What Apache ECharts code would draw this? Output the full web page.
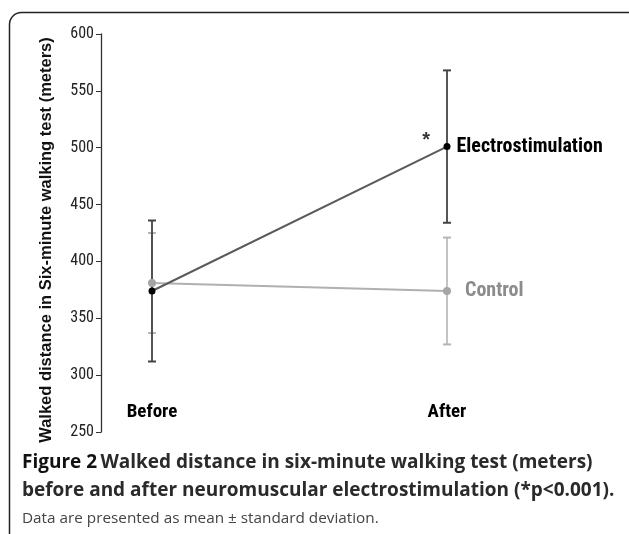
<!DOCTYPE html>
<html><head><meta charset="utf-8">
<script src="https://cdn.jsdelivr.net/npm/echarts@6/dist/echarts.min.js"></script>
<style>html,body{margin:0;padding:0;background:#fff}#c{width:629px;height:534px}</style>
</head><body><div id="c"></div>
<script>
var categories = ['Before', 'After'];
var electroMean = [374, 501];
var electroSD = [62, 67];
var controlMean = [381, 374];
var controlSD = [44, 47];
var yTicks = [250, 300, 350, 400, 450, 500, 550, 600];

var NARROW = '"Liberation Sans Narrow", "Arial Narrow", "Roboto Condensed", sans-serif';

function errBars(means, sds) {
  return means.map(function (m, i) { return [i, m - sds[i], m + sds[i]]; });
}
function errRender(color, capW, lw) {
  return function (params, api) {
    var x = api.value(0);
    var lo = api.coord([x, api.value(1)]);
    var hi = api.coord([x, api.value(2)]);
    var st = { stroke: color, lineWidth: lw };
    return {
      type: 'group',
      children: [
        { type: 'line', shape: { x1: lo[0], y1: lo[1], x2: hi[0], y2: hi[1] }, style: st },
        { type: 'line', shape: { x1: lo[0] - capW, y1: lo[1], x2: lo[0] + capW, y2: lo[1] }, style: { stroke: color, lineWidth: 2 } },
        { type: 'line', shape: { x1: hi[0] - capW, y1: hi[1], x2: hi[0] + capW, y2: hi[1] }, style: { stroke: color, lineWidth: 2 } }
      ]
    };
  };
}

var chart = echarts.init(document.getElementById('c'), null, { renderer: 'canvas' });
chart.setOption({
  animation: false,
  backgroundColor: '#fff',
  grid: { left: 152, right: 182, top: 34, bottom: 102 },
  xAxis: {
    type: 'category', data: categories, boundaryGap: false,
    offset: -29,
    axisLine: { show: false }, axisTick: { show: false },
    axisLabel: { margin: 0, color: '#000', fontFamily: NARROW, fontWeight: 'bold', fontSize: 19 }
  },
  yAxis: {
    type: 'value', min: yTicks[0], max: yTicks[yTicks.length - 1], interval: 50,
    offset: 51,
    splitLine: { show: false },
    axisLine: { show: true, lineStyle: { color: '#333', width: 1.3 } },
    axisTick: { show: true, length: 5, lineStyle: { color: '#333' } },
    axisLabel: { color: '#222', fontFamily: NARROW, fontSize: 16, margin: 7 },
    name: 'Walked distance in Six-minute walking test (meters)',
    nameLocation: 'middle', nameGap: 46, nameRotate: 90,
    nameTextStyle: { color: '#111', fontFamily: '"Liberation Sans", Arial, sans-serif', fontWeight: 'bold', fontSize: 16.5, padding: [0, 14, 0, 0] }
  },
  series: [
    {
      type: 'custom', name: 'ctrlErr', renderItem: errRender('#b4b4b4', 4, 1.6),
      data: errBars(controlMean, controlSD), z: 1
    },
    {
      type: 'custom', name: 'elecErr', renderItem: errRender('#444', 4, 1.8),
      data: errBars(electroMean, electroSD), z: 2
    },
    {
      type: 'line', name: 'Control', z: 3,
      data: controlMean.map(function (v, i) {
        return i === controlMean.length - 1 ? { value: v, label: { show: true, position: 'right', distance: 14, formatter: 'Control' } } : v;
      }),
      symbol: 'circle', symbolSize: 8,
      itemStyle: { color: '#a6a6a6' },
      lineStyle: { color: '#b0b0b0', width: 2 },
      label: { show: false, color: '#8c8c8c', fontFamily: NARROW, fontWeight: 'bold', fontSize: 20 }
    },
    {
      type: 'line', name: 'Electrostimulation', z: 4,
      data: electroMean.map(function (v, i) {
        return i === electroMean.length - 1 ? { value: v, label: { show: true, position: 'right', distance: 6, formatter: 'Electrostimulation' } } : v;
      }),
      symbol: 'circle', symbolSize: 7,
      itemStyle: { color: '#000' },
      lineStyle: { color: '#5a5a5a', width: 2 },
      label: { show: false, color: '#000', fontFamily: NARROW, fontWeight: 'bold', fontSize: 20 }
    },
    {
      type: 'scatter', name: 'sig', z: 5, symbolSize: 0,
      data: [[categories.length - 1, electroMean[electroMean.length - 1]]],
      label: { show: true, formatter: '*', position: 'left', offset: [-12, -6], color: '#000', fontFamily: '"Liberation Sans", Arial, sans-serif', fontWeight: 'bold', fontSize: 20 }
    }
  ],
  graphic: [
    { type: 'rect', shape: { x: 9.5, y: 12.5, width: 640, height: 540, r: 12 }, style: { fill: null, stroke: '#222', lineWidth: 1.5 }, z: -1 },
    {
      type: 'text', left: 22, top: 453,
      style: {
        text: '{b|Figure 2} {s|Walked distance in six-minute walking test (meters)}\n{s|before and after neuromuscular electrostimulation (*p<0.001).}\n{n|Data are presented as mean ± standard deviation.}',
        rich: {
          b: { fontFamily: '"Open Sans", sans-serif', fontWeight: 'bold', fontSize: 19, fill: '#111', lineHeight: 28 },
          s: { fontFamily: '"Open Sans", sans-serif', fontWeight: 'bold', fontSize: 19, fill: '#2a2a2a', lineHeight: 28 },
          n: { fontFamily: '"Open Sans", sans-serif', fontSize: 15.3, fill: '#444', lineHeight: 28 }
        }
      }
    }
  ]
});
</script></body></html>
